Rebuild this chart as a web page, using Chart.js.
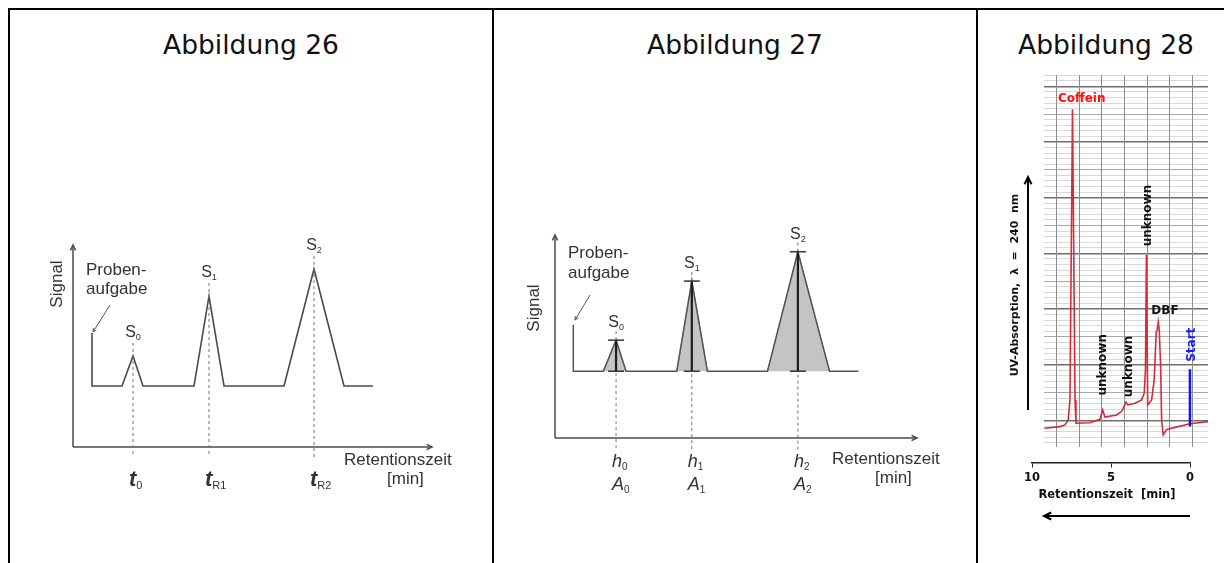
<!DOCTYPE html>
<html>
<head>
<meta charset="utf-8">
<script src="https://cdn.jsdelivr.net/npm/chart.js@4.4.1/dist/chart.umd.min.js"></script>
<style>
  body { margin: 0; background: #fff; width: 1224px; height: 563px; overflow: hidden; position: relative; }
  .rule { position: absolute; background: #000; }
  .title { position: absolute; top: 29px; text-align: center; font: 26.5px "DejaVu Sans", Verdana, sans-serif; color: #111; line-height: 32px; }
  canvas { position: absolute; left: 0; top: 0; }
</style>
</head>
<body>
<div class="rule" style="left:8px;top:8px;width:1216px;height:2px"></div>
<div class="rule" style="left:8px;top:8px;width:2px;height:555px"></div>
<div class="rule" style="left:492px;top:8px;width:2px;height:555px"></div>
<div class="rule" style="left:976px;top:8px;width:2px;height:555px"></div>
<div class="title" style="left:10px;width:482px">Abbildung 26</div>
<div class="title" style="left:494px;width:482px">Abbildung 27</div>
<div class="title" style="left:978px;width:256px">Abbildung 28</div>

<canvas id="c26" width="1224" height="563"></canvas>
<canvas id="c27" width="1224" height="563"></canvas>
<canvas id="c28" width="1224" height="563"></canvas>
<canvas id="c28t" width="1224" height="563"></canvas>

<script>
// Abbildung 26: schematic chromatogram (arbitrary units)
const schemaTime26 = [1.9, 1.9, 4.9, 6.0, 7.0, 12.1, 13.6, 15.1, 21.1, 24.1, 27.1, 30.0];
const schemaSignal26 = [11.4, 6.1, 6.1, 9.1, 6.1, 6.1, 15.1, 6.1, 6.1, 17.8, 6.1, 6.1];
const peakTime26 = [6.0, 13.6, 24.1];
const peakTop26 = [9.1, 15.1, 17.8];
const retSubs26 = ['0', 'R1', 'R2'];

// Abbildung 27: same, with heights and areas
const schemaTime27 = [1.83, 1.83, 4.83, 6.1, 7.1, 12.17, 13.67, 15.23, 21.23, 24.27, 27.43, 30.33];
const schemaSignal27 = [11.3, 6.67, 6.67, 9.77, 6.67, 6.67, 15.67, 6.67, 6.67, 18.6, 6.67, 6.67];
const baseline27 = 6.67;
const peakStart27 = [4.83, 12.17, 21.23];
const peakTime27 = [6.1, 13.67, 24.27];
const peakEnd27 = [7.1, 15.23, 27.43];
const peakTop27 = [9.77, 15.67, 18.6];

// Abbildung 28: recorded chromatogram, time in min, signal in grid units
const runTime = [9.2, 8.21, 7.90, 7.69, 7.58, 7.42, 7.26, 7.20, 6.32, 5.69, 5.51, 5.37, 4.63, 4.30, 4.04,
  3.92, 3.47, 3.05, 2.89, 2.81, 2.75, 2.67, 2.42, 2.26, 2.13, 2.08, 2.00, 1.94, 1.85, 1.79, 1.69, 1.47, 0.74, 0, -1.14];
const uvSignal = [-0.14, -0.11, -0.08, 0.01, 0.37, 5.59, 0.37, -0.05, -0.04, 0.02, 0.19, 0.06, 0.10, 0.17, 0.33,
  0.28, 0.31, 0.37, 0.49, 0.91, 2.97, 0.28, 0.37, 0.73, 1.59, 1.61, 1.77, 1.62, 0.97, 0.01, -0.26, -0.16, -0.11, -0.06, -0.02];
const startSignal = [0.92, -0.11];
const peakLabels = ['Coffein', 'unknown', 'DBF', 'unknown', 'unknown', 'Start'];
const labelTime = [6.84, 2.63, 1.58, 5.48, 3.85, -0.11];
const labelSignal = [5.78, 3.68, 1.97, 1.0, 0.97, 1.36];
const timeTicks = [10, 5, 0];

const ARIAL = '"Liberation Sans", Arial, sans-serif';
const VERD = '"DejaVu Sans", Verdana, sans-serif';

const pts = (xs, ys) => xs.map((x, i) => ({ x: x, y: ys[i] }));

function drawArrow(ctx, x1, y1, x2, y2, head, width, color) {
  ctx.save();
  ctx.strokeStyle = color;
  ctx.lineWidth = width;
  ctx.beginPath(); ctx.moveTo(x1, y1); ctx.lineTo(x2, y2); ctx.stroke();
  const a = Math.atan2(y2 - y1, x2 - x1);
  ctx.beginPath();
  ctx.moveTo(x2 - head * Math.cos(a - 0.45), y2 - head * Math.sin(a - 0.45));
  ctx.lineTo(x2, y2);
  ctx.lineTo(x2 - head * Math.cos(a + 0.45), y2 - head * Math.sin(a + 0.45));
  ctx.stroke();
  ctx.restore();
}

// text with subscript, x = left edge, y = baseline
function subText(ctx, x, y, main, sub, font, subFont) {
  ctx.font = font;
  ctx.textAlign = 'left';
  ctx.textBaseline = 'alphabetic';
  ctx.fillText(main, x, y);
  const w = ctx.measureText(main).width;
  ctx.font = subFont;
  ctx.fillText(sub, x + w, y + 3);
}
function subWidth(ctx, main, sub, font, subFont) {
  ctx.font = font;
  const w = ctx.measureText(main).width;
  ctx.font = subFont;
  return w + ctx.measureText(sub).width;
}

function rotText(ctx, txt, x, y, font, color) {
  ctx.save();
  ctx.translate(x, y);
  ctx.rotate(-Math.PI / 2);
  ctx.font = font;
  ctx.fillStyle = color;
  ctx.textAlign = 'center';
  ctx.textBaseline = 'middle';
  ctx.fillText(txt, 0, 0);
  ctx.restore();
}

function baseOptions(pad, xr, yr) {
  return {
    responsive: false,
    animation: false,
    events: [],
    layout: { padding: pad },
    plugins: { legend: { display: false }, tooltip: { enabled: false } },
    elements: { point: { radius: 0 }, line: { tension: 0 } },
    scales: {
      x: { type: 'linear', min: xr[0], max: xr[1], display: false },
      y: { type: 'linear', min: yr[0], max: yr[1], display: false }
    }
  };
}

// ---------- Abbildung 26 ----------
const decor26 = {
  id: 'decor26',
  beforeDatasetsDraw(chart) {
    const { ctx, chartArea: a } = chart;
    drawArrow(ctx, a.left, a.bottom, a.right, a.bottom, 6, 1.5, '#4a4a4a');
    drawArrow(ctx, a.left, a.bottom, a.left, a.top, 6, 1.5, '#4a4a4a');
  },
  afterDatasetsDraw(chart) {
    const { ctx, scales: { x, y } } = chart;
    ctx.save();
    ctx.fillStyle = '#333';
    peakTime26.forEach((t, i) => {
      const px = x.getPixelForValue(t);
      const py = y.getPixelForValue(peakTop26[i]);
      const f = '16px ' + ARIAL, sf = '9px ' + ARIAL;
      const w = subWidth(ctx, 'S', String(i), f, sf);
      subText(ctx, px - w / 2, py - 19, 'S', String(i), f, sf);
      subText(ctx, px - 4, 486, 't', retSubs26[i], 'italic bold 22px ' + ARIAL, '11px ' + ARIAL);
    });
    ctx.font = '17px ' + ARIAL;
    ctx.textBaseline = 'middle';
    ctx.textAlign = 'left';
    ctx.fillText('Proben-', 86, 270);
    ctx.fillText('aufgabe', 86, 289);
    ctx.fillText('Retentionszeit', 344, 460);
    ctx.fillText('[min]', 387, 479);
    rotText(ctx, 'Signal', 57, 284, '17px ' + ARIAL, '#333');
    drawArrow(ctx, 110, 305, 93, 332, 4, 1, '#555');
    ctx.restore();
  }
};

new Chart(document.getElementById('c26'), {
  type: 'line',
  data: {
    datasets: [
      { data: pts(schemaTime26, schemaSignal26), borderColor: '#4a4a4a', borderWidth: 1.6, order: 2 }
    ].concat(peakTime26.map((t, i) => ({
      data: [{ x: t, y: peakTop26[i] + 1.3 }, { x: t, y: -1.0 }],
      borderColor: '#777', borderWidth: 1, borderDash: [3, 3], clip: false, order: 1
    })))
  },
  options: baseOptions({ left: 73, right: 792, top: 245, bottom: 116 }, [0, 35.9], [0, 20.2]),
  plugins: [decor26]
});

// ---------- Abbildung 27 ----------
const decor27 = {
  id: 'decor27',
  beforeDatasetsDraw(chart) {
    const { ctx, chartArea: a } = chart;
    drawArrow(ctx, a.left, a.bottom, a.right, a.bottom, 6, 1.5, '#4a4a4a');
    drawArrow(ctx, a.left, a.bottom, a.left, a.top, 6, 1.5, '#4a4a4a');
  },
  afterDatasetsDraw(chart) {
    const { ctx, scales: { x, y } } = chart;
    ctx.save();
    ctx.fillStyle = '#333';
    peakTime27.forEach((t, i) => {
      const px = x.getPixelForValue(t);
      const py = y.getPixelForValue(peakTop27[i]);
      const f = '16px ' + ARIAL, sf = '9px ' + ARIAL;
      const w = subWidth(ctx, 'S', String(i), f, sf);
      subText(ctx, px - w / 2, py - 13, 'S', String(i), f, sf);
      subText(ctx, px - 4, 467, 'h', String(i), 'italic 18px ' + ARIAL, '10px ' + ARIAL);
      subText(ctx, px - 4, 490, 'A', String(i), 'italic 18px ' + ARIAL, '10px ' + ARIAL);
    });
    ctx.font = '17px ' + ARIAL;
    ctx.textBaseline = 'middle';
    ctx.textAlign = 'left';
    ctx.fillText('Proben-', 568, 253);
    ctx.fillText('aufgabe', 568, 273);
    ctx.fillText('Retentionszeit', 832, 459);
    ctx.fillText('[min]', 875, 478);
    rotText(ctx, 'Signal', 534, 308, '17px ' + ARIAL, '#333');
    drawArrow(ctx, 590, 295, 575, 320, 4, 1, '#555');
    ctx.restore();
  }
};

const datasets27 = [];
peakTime27.forEach((t, i) => {
  datasets27.push({
    data: [{ x: peakStart27[i], y: baseline27 }, { x: t, y: peakTop27[i] }, { x: peakEnd27[i], y: baseline27 }],
    borderColor: '#8a8a8a', borderWidth: 1, backgroundColor: '#c4c4c4', fill: { value: baseline27 }, order: 6
  });
  datasets27.push({
    data: [{ x: t, y: peakTop27[i] + 0.9 }, { x: t, y: -1.25 }],
    borderColor: '#777', borderWidth: 1, borderDash: [3, 3], clip: false, order: 4
  });
  datasets27.push({
    data: [{ x: t, y: baseline27 }, { x: t, y: peakTop27[i] }],
    borderColor: '#1e1e1e', borderWidth: 2.2, order: 2
  });
  [peakTop27[i], baseline27].forEach(v => {
    datasets27.push({
      data: [{ x: t - 0.8, y: v }, { x: t + 0.8, y: v }],
      borderColor: '#333', borderWidth: 1.5, order: 1
    });
  });
});
datasets27.push({ data: pts(schemaTime27, schemaSignal27), borderColor: '#555', borderWidth: 1.5, order: 5 });

new Chart(document.getElementById('c27'), {
  type: 'line',
  data: { datasets: datasets27 },
  options: baseOptions({ left: 555, right: 307, top: 235, bottom: 125 }, [0, 36.17], [0, 20.27]),
  plugins: [decor27]
});

// ---------- Abbildung 28 ----------
const paperCols = [0, 1, 2, 3, 4, 5, 6];
const paperRows = [];
for (let i = -4; i <= 62; i++) paperRows.push(i / 10);

const decor28 = {
  id: 'decor28',
  afterDatasetsDraw(chart) {
    const { ctx, scales: { x, y } } = chart;
    ctx.save();
    peakLabels.forEach((lab, i) => {
      const px = x.getPixelForValue(labelTime[i]);
      const py = y.getPixelForValue(labelSignal[i]);
      if (lab === 'Coffein' || lab === 'DBF') {
        ctx.font = 'bold 12px ' + VERD;
        ctx.fillStyle = lab === 'Coffein' ? '#ff1010' : '#111';
        ctx.textAlign = 'center';
        ctx.textBaseline = 'middle';
        ctx.fillText(lab, px, py);
      } else {
        rotText(ctx, lab, px, py, 'bold 12px ' + VERD, lab === 'Start' ? '#1a1aff' : '#111');
      }
    });
    drawArrow(ctx, 1028, 410, 1028, 177, 8, 2, '#000');
    rotText(ctx, 'UV-Absorption,  \u03bb  =  240  nm', 1015, 285, 'bold 11px ' + VERD, '#111');
    ctx.restore();
  }
};

new Chart(document.getElementById('c28'), {
  type: 'line',
  data: {
    datasets: [
      { data: pts(runTime, uvSignal), borderColor: '#d42c3c', borderWidth: 1.6, order: 2 },
      { data: [{ x: 0, y: startSignal[0] }, { x: 0, y: startSignal[1] }], borderColor: '#1010ff', borderWidth: 2.5, order: 1 }
    ]
  },
  options: (() => {
    const o = baseOptions({ left: 1044, right: 16, top: 75, bottom: 116 }, [-1.14, 9.22], [-0.476, 6.203]);
    o.scales.x.reverse = true;
    o.scales.paper = {
      type: 'linear', axis: 'x', position: 'bottom', min: -0.56, max: 6.7,
      afterBuildTicks: s => { s.ticks = paperCols.map(v => ({ value: v })); },
      ticks: { display: false }, border: { display: false },
      grid: { color: '#8c8c8c', lineWidth: 1, drawTicks: false }
    };
    o.scales.y = {
      type: 'linear', min: -0.476, max: 6.203, display: true,
      afterBuildTicks: s => { s.ticks = paperRows.map(v => ({ value: v })); },
      ticks: { display: false }, border: { display: false },
      grid: {
        drawTicks: false,
        color: c => {
          const k = Math.round(c.tick.value * 10);
          return k % 10 === 0 ? '#6e6e6e' : (k % 5 === 0 ? '#a8a8a8' : '#d9d9d9');
        },
        lineWidth: c => (Math.round(c.tick.value * 10) % 10 === 0 ? 1.6 : 1)
      }
    };
    return o;
  })(),
  plugins: [decor28]
});

const decor28t = {
  id: 'decor28t',
  afterDraw(chart) {
    const { ctx } = chart;
    ctx.save();
    ctx.font = 'bold 11.5px ' + VERD;
    ctx.fillStyle = '#111';
    ctx.textAlign = 'center';
    ctx.textBaseline = 'middle';
    ctx.fillText('Retentionszeit  [min]', 1107, 495);
    drawArrow(ctx, 1190, 516, 1044, 516, 8, 2, '#000');
    ctx.restore();
  }
};

new Chart(document.getElementById('c28t'), {
  type: 'line',
  data: { datasets: [] },
  options: (() => {
    const o = baseOptions({ left: 1032, right: 34, top: 440, bottom: 78 }, [0, 10], [0, 1]);
    o.scales.x = {
      type: 'linear', reverse: true, min: 0, max: 10,
      afterBuildTicks: s => { s.ticks = timeTicks.map(v => ({ value: v })); },
      ticks: { font: { family: VERD, size: 11.5, weight: 'bold' }, color: '#111', padding: 4, maxRotation: 0, autoSkip: false },
      grid: { drawOnChartArea: false, drawTicks: true, tickLength: 5, color: '#222', lineWidth: 1 },
      border: { display: true, color: '#222', width: 1.5 }
    };
    return o;
  })(),
  plugins: [decor28t]
});
</script>
</body>
</html>
